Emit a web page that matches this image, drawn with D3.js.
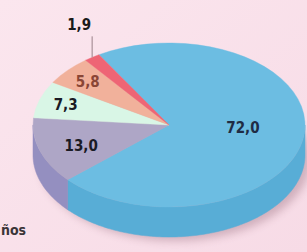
<!DOCTYPE html>
<html>
<head>
<meta charset="utf-8">
<script src="https://cdn.jsdelivr.net/npm/d3@7"></script>
<style>
  html, body { margin: 0; padding: 0; background: #fae2ec; }
  svg { display: block; }
</style>
</head>
<body>
<svg id="chart" width="307" height="252"></svg>
<script>
const svgEl = document.getElementById('chart')
const width = +svgEl.getAttribute('width')
const height = +svgEl.getAttribute('height')
const svg = d3.select('#chart')

// data, in drawing order (clockwise from the top-left)
const labels = ['72,0', '13,0', '7,3', '5,8', '1,9']
const values = [72.0, 13.0, 7.3, 5.8, 1.9]
const topColors = ['#6cbde2', '#aea6c6', '#d9f6e6', '#f1b19b', '#ee6575']
const sideColors = ['#58add6', '#948fc0', '#bfe3d2', '#d9927e', '#d44d5d']
const labelColors = ['#1f2c44', '#1a1a24', '#1a1a24', '#8a4636', '#1a1a1a']

const cx = 169
const cy = 125
const rx = 136
const ry = 82
const depth = 30
const startDeg = -31

const pie = d3.pie()
	.sort(null)
	.value(d => d)
	.startAngle(startDeg * Math.PI / 180)
	.endAngle(startDeg * Math.PI / 180 + 2 * Math.PI)

const slices = pie(values)

// point on the ellipse for a pie angle (0 = 12 o'clock, clockwise)
const ep = (a, r = 1, dy = 0) => [cx + rx * r * Math.sin(a), cy - ry * r * Math.cos(a) + dy]

// background
const defs = svg.append('defs')
const bg = defs.append('linearGradient').attr('id', 'bg').attr('x1', 0).attr('y1', 0).attr('x2', 1).attr('y2', 1)
bg.append('stop').attr('offset', '0%').attr('stop-color', '#fbe6ee')
bg.append('stop').attr('offset', '100%').attr('stop-color', '#f7dbe6')
svg.append('rect').attr('width', width).attr('height', height).attr('fill', 'url(#bg)')

const blur = defs.append('filter').attr('id', 'blur').attr('x', '-20%').attr('y', '-50%').attr('width', '140%').attr('height', '200%')
blur.append('feGaussianBlur').attr('stdDeviation', 4)

// soft shadow under the pie
svg.append('ellipse')
	.attr('cx', cx + 6)
	.attr('cy', cy + depth + 4)
	.attr('rx', rx)
	.attr('ry', ry)
	.attr('fill', '#a07888')
	.attr('opacity', 0.45)
	.attr('filter', 'url(#blur)')

// side walls (front half only)
const line = d3.line()
const sideGroup = svg.append('g')
slices.forEach((s, i) => {
	for (let k = -1; k <= 1; k++) {
		const a0 = Math.max(s.startAngle + k * 2 * Math.PI, Math.PI / 2)
		const a1 = Math.min(s.endAngle + k * 2 * Math.PI, 3 * Math.PI / 2)
		if (a1 <= a0) continue
		const steps = d3.range(a0, a1, 0.02).concat([a1])
		const pts = steps.map(a => ep(a)).concat(steps.slice().reverse().map(a => ep(a, 1, depth)))
		sideGroup.append('path')
			.attr('d', line(pts) + 'Z')
			.attr('fill', sideColors[i])
			.attr('stroke', sideColors[i])
			.attr('stroke-width', 0.5)
	}
})

// top face: circle arcs squashed into an ellipse
const arc = d3.arc().innerRadius(0).outerRadius(rx)
svg.append('g')
	.attr('transform', `translate(${cx},${cy}) scale(1,${ry / rx})`)
	.selectAll('path')
	.data(slices)
	.join('path')
	.attr('d', arc)
	.attr('fill', (d, i) => topColors[i])
	.attr('stroke', (d, i) => topColors[i])
	.attr('stroke-width', 0.5)

// labels
const labelR = [0.55, 0.68, 0.8, 0.8]
const labelDy = [-4, 3, 0, 0]
const font = "'DejaVu Sans Condensed', 'DejaVu Sans', sans-serif"
slices.forEach((s, i) => {
	const mid = (s.startAngle + s.endAngle) / 2
	if (i < labelR.length) {
		const [x, y] = ep(mid, labelR[i], labelDy[i])
		svg.append('text')
			.attr('x', x)
			.attr('y', y)
			.attr('dy', '0.36em')
			.attr('text-anchor', 'middle')
			.attr('font-family', font)
			.attr('font-weight', 'bold')
			.attr('font-size', 15)
			.attr('fill', labelColors[i])
			.text(labels[i])
	} else {
		// small slice: label above with a leader line
		const [x, y] = ep(mid)
		svg.append('line')
			.attr('x1', x).attr('y1', y)
			.attr('x2', x).attr('y2', y - 21)
			.attr('stroke', '#9a8088')
			.attr('stroke-width', 1)
		svg.append('text')
			.attr('x', x - 1)
			.attr('y', y - 27)
			.attr('text-anchor', 'end')
			.attr('font-family', font)
			.attr('font-weight', 'bold')
			.attr('font-size', 15)
			.attr('fill', labelColors[i])
			.text(labels[i])
	}
})

// caption fragment at bottom left
svg.append('text')
	.attr('x', 1)
	.attr('y', 235)
	.attr('text-anchor', 'start')
	.attr('font-family', font)
	.attr('font-weight', 'bold')
	.attr('font-size', 14)
	.attr('fill', '#3a3438')
	.text('ños')
</script>
</body>
</html>
